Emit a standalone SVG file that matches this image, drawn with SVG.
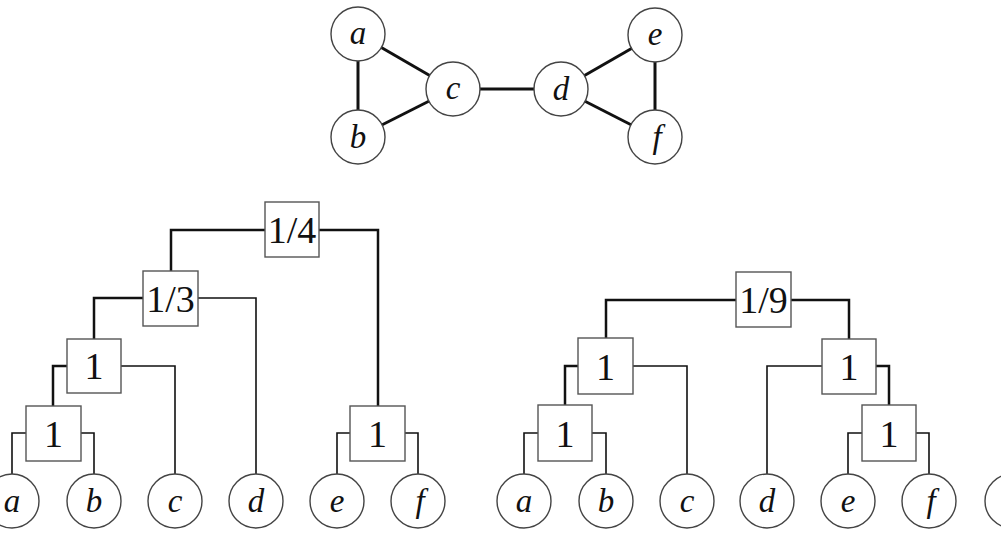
<svg xmlns="http://www.w3.org/2000/svg" width="1001" height="535" viewBox="0 0 1001 535">
<style>
.n circle{fill:#fff;stroke:#444;stroke-width:1.4}
.n text{font-family:"Liberation Serif","Times New Roman",serif;font-style:italic;font-size:33px;fill:#111;text-anchor:middle}
.b rect{fill:#fff;stroke:#555;stroke-width:1.4}
.b text{font-family:"Liberation Serif","Times New Roman",serif;font-size:38px;fill:#111;text-anchor:middle}
.e line{stroke:#111;stroke-width:3}
.c path{fill:none;stroke:#111;stroke-width:2.5}
.c path.l{stroke-width:1.6}
</style>
<g id="graph-edges" class="e">
<line x1="358" y1="34" x2="358" y2="137"/>
<line x1="358" y1="34" x2="453" y2="89"/>
<line x1="358" y1="137" x2="453" y2="89"/>
<line x1="453" y1="89" x2="561" y2="89"/>
<line x1="561" y1="89" x2="655" y2="35"/>
<line x1="561" y1="89" x2="655" y2="137"/>
<line x1="655" y1="35" x2="655" y2="137"/>
</g>
<g id="g-a" class="n"><circle cx="358" cy="34" r="27"/><text x="358" y="44">a</text></g>
<g id="g-b" class="n"><circle cx="358" cy="137" r="27"/><text x="358" y="148">b</text></g>
<g id="g-c" class="n"><circle cx="453" cy="89" r="27"/><text x="453" y="99">c</text></g>
<g id="g-d" class="n"><circle cx="561" cy="89" r="27"/><text x="561" y="100">d</text></g>
<g id="g-e" class="n"><circle cx="655" cy="35" r="27"/><text x="655" y="45">e</text></g>
<g id="g-f" class="n"><circle cx="655" cy="137" r="27"/><text x="657" y="148">f</text></g>

<g id="connectors" class="c">
<path class="l" d="M12 474V433H26"/>
<path class="l" d="M94 474V433H81"/>
<path d="M53 406V366H67"/>
<path class="l" d="M175 474V366H121"/>
<path d="M94 339V298H143"/>
<path class="l" d="M256 474V298H198"/>
<path class="l" d="M337 474V433H350"/>
<path class="l" d="M418 474V433H405"/>
<path d="M171 271V230H265"/>
<path d="M378 406V230H319"/>
<path class="l" d="M524 474V433H538"/>
<path class="l" d="M606 474V433H592"/>
<path d="M565 405V366H578"/>
<path class="l" d="M687 474V366H633"/>
<path class="l" d="M848 474V433H862"/>
<path class="l" d="M929 474V433H916"/>
<path class="l" d="M767 474V366H822"/>
<path d="M889 405V366H876"/>
<path d="M606 338V300H736"/>
<path d="M849 339V300H791"/>
</g>

<g id="L-ab" class="b"><rect x="26" y="406" width="55" height="55"/><text x="53.5" y="447">1</text></g>
<g id="L-abc" class="b"><rect x="67" y="339" width="54" height="54"/><text x="94" y="379">1</text></g>
<g id="L-abcd" class="b"><rect x="143" y="271" width="55" height="55"/><text x="170.5" y="312">1/3</text></g>
<g id="L-ef" class="b"><rect x="350" y="406" width="55" height="55"/><text x="377.5" y="447">1</text></g>
<g id="L-root" class="b"><rect x="265" y="202" width="54" height="55"/><text x="292" y="243">1/4</text></g>

<g id="R-ab" class="b"><rect x="538" y="405" width="54" height="56"/><text x="565" y="447">1</text></g>
<g id="R-abc" class="b"><rect x="578" y="338" width="55" height="56"/><text x="605.5" y="380">1</text></g>
<g id="R-ef" class="b"><rect x="862" y="405" width="54" height="56"/><text x="889" y="447">1</text></g>
<g id="R-def" class="b"><rect x="822" y="339" width="54" height="55"/><text x="849" y="380">1</text></g>
<g id="R-root" class="b"><rect x="736" y="272" width="55" height="55"/><text x="763.5" y="313">1/9</text></g>

<g id="L-a" class="n"><circle cx="12" cy="501" r="27"/><text x="12" y="512">a</text></g>
<g id="L-b" class="n"><circle cx="94" cy="501" r="27"/><text x="94" y="512">b</text></g>
<g id="L-c" class="n"><circle cx="175" cy="501" r="27"/><text x="175" y="512">c</text></g>
<g id="L-d" class="n"><circle cx="256" cy="501" r="27"/><text x="256" y="512">d</text></g>
<g id="L-e" class="n"><circle cx="337" cy="501" r="27"/><text x="337" y="512">e</text></g>
<g id="L-f" class="n"><circle cx="418" cy="501" r="27"/><text x="420" y="512">f</text></g>

<g id="R-a" class="n"><circle cx="524" cy="501" r="27"/><text x="524" y="512">a</text></g>
<g id="R-b" class="n"><circle cx="606" cy="501" r="27"/><text x="606" y="512">b</text></g>
<g id="R-c" class="n"><circle cx="687" cy="501" r="27"/><text x="687" y="512">c</text></g>
<g id="R-d" class="n"><circle cx="767" cy="501" r="27"/><text x="767" y="512">d</text></g>
<g id="R-e" class="n"><circle cx="848" cy="501" r="27"/><text x="848" y="512">e</text></g>
<g id="R-f" class="n"><circle cx="929" cy="501" r="27"/><text x="931" y="512">f</text></g>
<g id="R-g" class="n"><circle cx="1012" cy="501" r="27"/></g>
</svg>
